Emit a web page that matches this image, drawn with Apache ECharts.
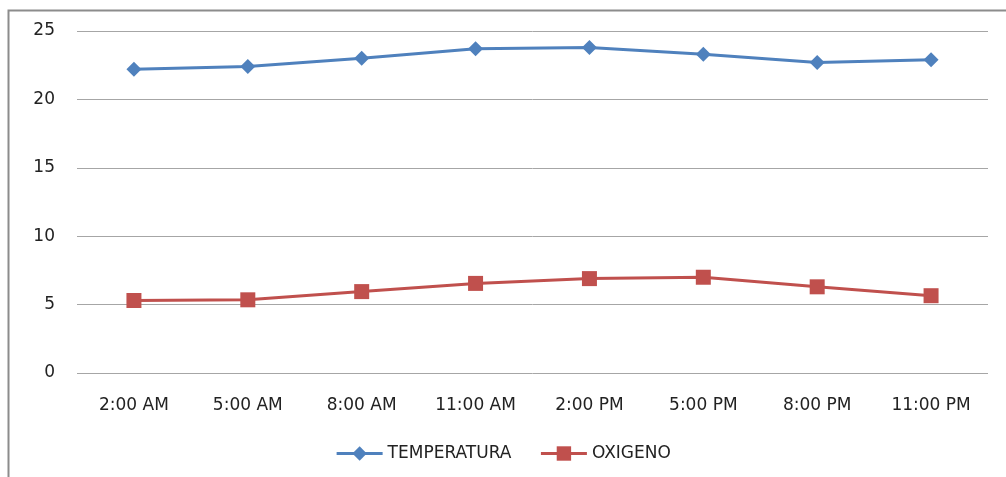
<!DOCTYPE html>
<html>
<head>
<meta charset="utf-8">
<script src="https://cdn.jsdelivr.net/npm/echarts@6/dist/echarts.min.js"></script>
<style>
  html, body { margin: 0; padding: 0; background: #fff; }
  #chart { width: 1006px; height: 477px; }
</style>
</head>
<body>
<div id="chart"></div>
<script>
// data
var horas = ['2:00 AM', '5:00 AM', '8:00 AM', '11:00 AM', '2:00 PM', '5:00 PM', '8:00 PM', '11:00 PM'];
var temperatura = [22.2, 22.4, 23.0, 23.7, 23.8, 23.3, 22.7, 22.9];
var oxigeno = [5.3, 5.35, 5.95, 6.55, 6.9, 7.0, 6.3, 5.65];
var yTicks = { min: 0, max: 25, interval: 5 };

var myChart = echarts.init(document.getElementById('chart'));
var fuente = 'DejaVu Sans';
var option = {
  animation: false,
  textStyle: { fontFamily: fuente },
  graphic: [{
    type: 'rect',
    shape: { x: 8.5, y: 10.5, width: 1010, height: 480 },
    style: { fill: null, stroke: '#8c8c8c', lineWidth: 2 },
    silent: true
  }],
  legend: {
    data: ['TEMPERATURA', 'OXIGENO'],
    bottom: 10,
    left: 'center',
    itemWidth: 46,
    itemHeight: 18,
    itemGap: 28,
    lineStyle: { width: 3 },
    textStyle: { fontSize: 17, color: '#222', fontFamily: fuente }
  },
  grid: { left: 77, right: 18, top: 31, bottom: 104 },
  xAxis: {
    type: 'category',
    data: horas,
    axisLine: { show: false },
    axisTick: { show: false },
    axisLabel: { color: '#222', fontSize: 17, margin: 24, fontFamily: fuente }
  },
  yAxis: {
    type: 'value',
    min: yTicks.min,
    max: yTicks.max,
    interval: yTicks.interval,
    axisLine: { show: false },
    axisTick: { show: false },
    axisLabel: { color: '#222', fontSize: 17, margin: 22, fontFamily: fuente },
    splitLine: { lineStyle: { color: '#a6a6a6', width: 1 } }
  },
  series: [
    {
      name: 'TEMPERATURA',
      type: 'line',
      data: temperatura,
      symbol: 'diamond',
      symbolSize: 15,
      lineStyle: { color: '#4F81BD', width: 3 },
      itemStyle: { color: '#4F81BD' }
    },
    {
      name: 'OXIGENO',
      type: 'line',
      data: oxigeno,
      symbol: 'rect',
      symbolSize: 15,
      lineStyle: { color: '#C0504D', width: 3 },
      itemStyle: { color: '#C0504D' }
    }
  ]
};
myChart.setOption(option);
</script>
</body>
</html>
